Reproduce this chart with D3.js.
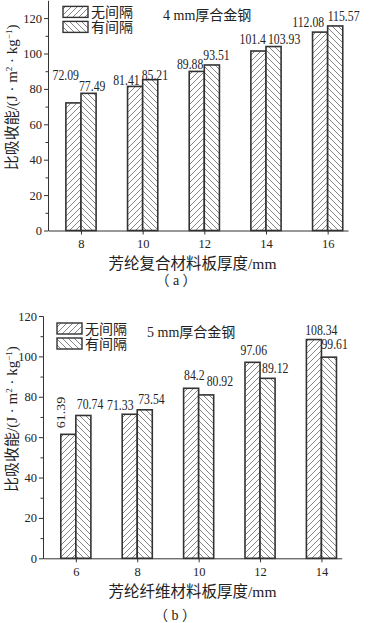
<!DOCTYPE html>
<html lang="zh">
<head>
<meta charset="UTF-8">
<title>比吸收能</title>
<script src="https://d3js.org/d3.v7.min.js"></script>
<style>
  body { margin: 0; background: #fff; }
  svg { display: block; font-family: "Liberation Serif", "Noto Sans CJK SC", serif; fill: #222; }
  .axis path, .axis line { stroke: #333; stroke-width: 1; }
  .axis text { font-size: 12.5px; fill: #222; font-family: "Liberation Serif", serif; }
</style>
</head>
<body>
<svg width="371" height="623"></svg>
<script>
// data
const seriesNames = ["无间隔", "有间隔"];

const thickA = [8, 10, 12, 14, 16];
const noGapA = [72.09, 81.41, 89.88, 101.4, 112.08];
const gapA = [77.49, 85.21, 93.51, 103.93, 115.57];

const thickB = [6, 8, 10, 12, 14];
const noGapB = [61.39, 71.33, 84.2, 97.06, 108.34];
const gapB = [70.74, 73.54, 80.92, 89.12, 99.61];

const yTicks = [0, 20, 40, 60, 80, 100, 120];
const yMinor = [10, 30, 50, 70, 90, 110];

const svg = d3.select("svg");
const defs = svg.append("defs");

// hatch fills: "///" for 无间隔, "\\\" for 有间隔
function hatch(id, up) {
    const p = defs.append("pattern")
        .attr("id", id)
        .attr("patternUnits", "userSpaceOnUse")
        .attr("width", 6)
        .attr("height", 6);
    p.append("rect").attr("width", 6).attr("height", 6).attr("fill", "#fff");
    p.append("path")
        .attr("d", up ? "M-1,1 l2,-2 M0,6 l6,-6 M5,7 l2,-2" : "M-1,5 l2,2 M0,0 l6,6 M5,-1 l2,2")
        .attr("stroke", "#666")
        .attr("stroke-width", 0.8);
}
hatch("h1", true);
hatch("h2", false);
const fills = ["url(#h1)", "url(#h2)"];

// value labels use a narrow Times look
function numText(sel, x, y, anchor, rot, txt) {
    sel.append("text")
        .attr("transform", rot
            ? `translate(${x},${y}) rotate(-90) scale(1,0.85)`
            : `translate(${x},${y}) scale(0.84,1)`)
        .attr("text-anchor", anchor)
        .style("font-size", "14px")
        .text(txt);
}

function panel(o) {
    const x = d3.scaleLinear().domain(o.xDomain).range([o.left, o.right]);
    const y = d3.scaleLinear().domain(o.yDomain).range([o.bottom, o.top]);
    const g = svg.append("g");

    // bars
    [o.s1, o.s2].forEach(function(vals, si) {
        g.selectAll(null)
            .data(vals)
            .join("rect")
            .attr("x", (d, i) => si === 0 ? x(o.groups[i] - o.barW) : x(o.groups[i]))
            .attr("y", d => y(d))
            .attr("width", x(o.groups[0] + o.barW) - x(o.groups[0]))
            .attr("height", d => y(0) - y(d))
            .attr("fill", fills[si])
            .attr("stroke", "#333")
            .attr("stroke-width", 1.6);
    });

    // axes
    g.append("g").attr("class", "axis")
        .attr("transform", `translate(${o.left},0)`)
        .call(d3.axisLeft(y).tickValues(yMinor).tickSize(2.5).tickSizeOuter(0).tickFormat(""));
    g.append("g").attr("class", "axis")
        .attr("transform", `translate(${o.left},0)`)
        .call(d3.axisLeft(y).tickValues(yTicks).tickSize(4).tickSizeOuter(0).tickPadding(2));
    g.append("g").attr("class", "axis")
        .attr("transform", `translate(0,${y(0)})`)
        .call(d3.axisBottom(x).tickValues(o.groups).tickSize(4).tickSizeOuter(0).tickPadding(5)
            .tickFormat(d3.format("d")));

    // value labels, nudged by hand like the original
    [o.s1, o.s2].forEach(function(vals, si) {
        vals.forEach(function(v, i) {
            const n = o.nudge[si][i];
            numText(g, x(o.groups[i]) + n[0], y(v) + n[1], n[2] ? "start" : (si === 0 ? "end" : "start"), n[2], v);
        });
    });

    // legend
    seriesNames.forEach(function(name, i) {
        g.append("rect")
            .attr("x", o.left + o.legX)
            .attr("y", o.top + o.legY + i * 15)
            .attr("width", 25)
            .attr("height", 11)
            .attr("fill", fills[i])
            .attr("stroke", "#333")
            .attr("stroke-width", 1.4);
        g.append("text")
            .attr("x", o.left + o.legX + 28)
            .attr("y", o.top + o.legY + i * 15 + 11)
            .style("font-size", "14px")
            .text(name);
    });
    g.append("text")
        .attr("x", o.left + o.noteX)
        .attr("y", o.top + o.noteY)
        .style("font-size", "14px")
        .text(o.note);

    // axis titles
    const yl = g.append("text")
        .attr("transform", `translate(17,${(o.top + o.bottom) / 2 - 18}) rotate(-90)`)
        .attr("text-anchor", "middle")
        .style("font-size", "15px");
    yl.append("tspan").text("比吸收能/(J · m");
    yl.append("tspan").attr("dy", -5).style("font-size", "9px").text("2");
    yl.append("tspan").attr("dy", 5).text(" · kg");
    yl.append("tspan").attr("dy", -5).style("font-size", "9px").text("−1");
    yl.append("tspan").attr("dy", 5).text(")");

    g.append("text")
        .attr("x", o.titleX)
        .attr("y", y(0) + 38.5)
        .attr("text-anchor", "middle")
        .style("font-size", "15.5px")
        .text(o.xTitle);
    g.append("text")
        .attr("x", o.capX)
        .attr("y", o.capY)
        .attr("text-anchor", "middle")
        .style("font-size", "14px")
        .text(o.caption);
}

panel({
    groups: thickA, s1: noGapA, s2: gapA,
    xDomain: [6.93, 16.66], yDomain: [0, 130],
    left: 48, right: 348, top: 0.4, bottom: 230.5, barW: 0.49,
    legX: 15, legY: 6, noteX: 115, noteY: 20, note: "4 mm厚合金钢",
    titleX: 192.5, xTitle: "芳纶复合材料板厚度/mm",
    capX: 176, capY: 285, caption: "（ a ）",
    nudge: [
        [[-2, -23], [-3, -1.5], [-1, -2.3], [0, -7], [-3.5, -5.3]],
        [[-2, -2.6], [-1, 0], [-1, -5], [2, -2.5], [0, -5]]
    ]
});

panel({
    groups: thickB, s1: noGapB, s2: gapB,
    xDomain: [4.93, 14.66], yDomain: [0, 120],
    left: 43, right: 341.7, top: 316, bottom: 558.3, barW: 0.49,
    legX: 14, legY: 7, noteX: 104, noteY: 21, note: "5 mm厚合金钢",
    titleX: 192.5, xTitle: "芳纶纤维材料板厚度/mm",
    capX: 175, capY: 620, caption: "（ b ）",
    nudge: [
        [[-10.7, -6, true], [-3.7, -4], [6, -8], [7, -7], [16, -5]],
        [[1, -6], [1, -5.7], [8, -9], [2, -5], [0, -7.7]]
    ]
});
</script>
</body>
</html>
